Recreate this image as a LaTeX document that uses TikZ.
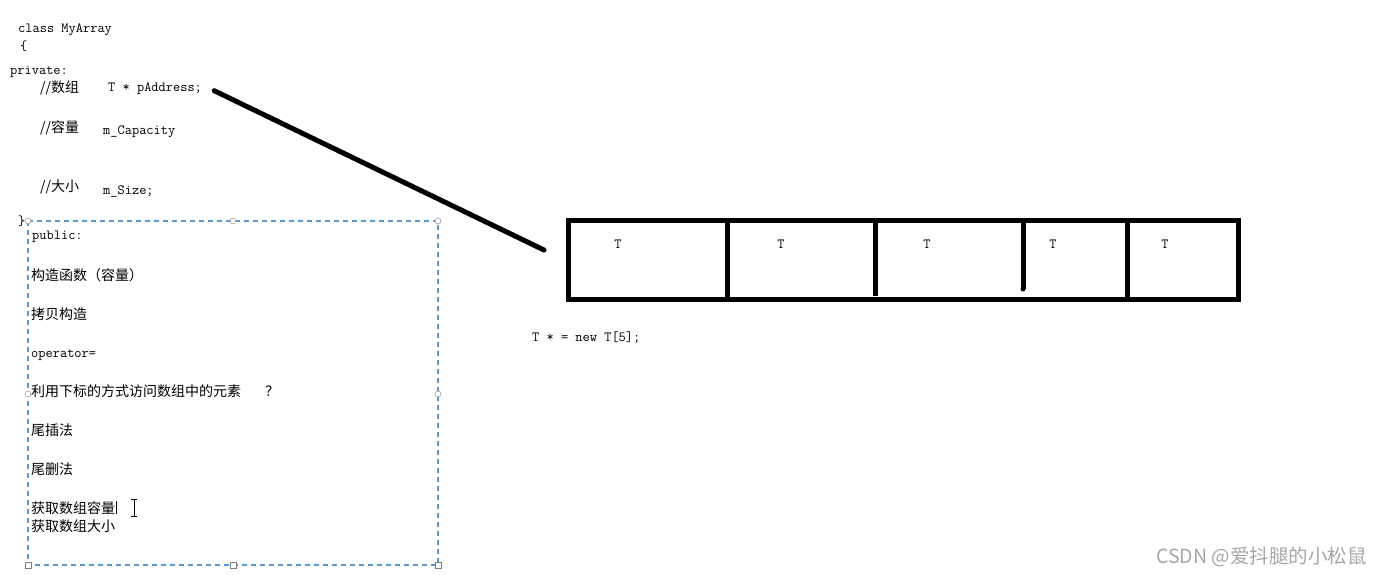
\documentclass[tikz,border=0pt]{standalone}
\usepackage{fontspec}
\newfontfamily\cjk{Noto Sans CJK SC}
\definecolor{BoxDash}{HTML}{5B9BD5}
\definecolor{Handle}{HTML}{7F7F7F}
\definecolor{Mark}{HTML}{A6A6A6}

\begin{document}
\begin{tikzpicture}[x=1pt, y=-1pt,
            code/.style={anchor=base west, inner sep=0pt, font=\fontsize{14}{16}\ttfamily},
            zh/.style={anchor=base west, inner sep=0pt, font=\fontsize{14}{16}\cjk},
            cell/.style={anchor=base, inner sep=0pt, font=\fontsize{14}{16}\ttfamily},
            handle/.style={circle, draw=Handle, fill=white, inner sep=0pt, minimum size=6pt},
            handlesq/.style={rectangle, draw=Handle, fill=white, inner sep=0pt, minimum size=5.5pt},
            thickline/.style={line width=5pt, line cap=round}]
            \useasboundingbox (0,0) rectangle (1383,575);

            % declaracao da classe
            \node[code] (cls)   at (18,33)  {class MyArray};
            \node[code] (lbr)   at (20,51)  {\{};
            \node[code] (priv)  at (10,75)  {private:};
            \node[zh]   (cmt1)  at (40,93)  {//数组};
            \node[code] (paddr) at (108,92) {T * pAddress;};
            \node[zh]   (cmt2)  at (40,132) {//容量};
            \node[code] (cap)   at (103,135) {m\_Capacity};
            \node[zh]   (cmt3)  at (40,191) {//大小};
            \node[code] (size)  at (103,194) {m\_Size;};
            \node[code] (rbr)   at (18,225) {\}};

            % caixa tracejada com a interface publica
            \draw[BoxDash, line width=1.2pt, dash pattern=on 5pt off 4pt] (28,221) rectangle (438,565);
            \foreach \hx/\hy in {28/221, 233/221, 438/221, 28/394, 438/394}
                \node[handle] (h-\hx-\hy) at (\hx,\hy) {};
            \foreach \hx in {28, 233, 438}
                \node[handlesq] (hb-\hx) at (\hx,565) {};

            \node[code] (pub)     at (32,239) {public:};
            \node[zh]   (ctor)    at (31,280) {构造函数（容量）};
            \node[zh]   (copy)    at (31,319) {拷贝构造};
            \node[code] (opr)     at (31,357) {operator=};
            \node[zh]   (idx)     at (31,396) {利用下标的方式访问数组中的元素\hspace{24pt}？};
            \node[zh]   (push)    at (31,435) {尾插法};
            \node[zh]   (pop)     at (31,474) {尾删法};
            \node[zh]   (getcap)  at (31,513) {获取数组容量};
            \node[zh]   (getsize) at (31,531) {获取数组大小};

            % cursor de texto
            \draw[line width=1pt] ([xshift=1.5pt]getcap.north east) -- ([xshift=1.5pt]getcap.south east);
            \draw[line width=0.9pt] (134,499) -- (134,516) (131,499) -- (137,499) (131,516) -- (137,516);

            % array no heap
            \node[draw, line width=5pt, minimum width=670pt, minimum height=79pt, inner sep=0pt]
                (arr) at (903,259.5) {};
            \draw[line width=5pt] (727,220) -- (727,299);
            \draw[line width=5pt] (875,220) -- (875,296);
            \draw[line width=5pt] (1023,220) -- (1023,289);
            \fill (1023,289) circle (2.5pt);
            \draw[line width=5pt] (1127,220) -- (1127,299);
            \foreach \tx [count=\i] in {618, 781, 927, 1053, 1165}
                \node[cell] (t\i) at (\tx,248) {T};
            \node[code] (newarr) at (532,341) {T * = new T[5];};

            % ponteiro para o array
            \coordinate (tip) at (544,250);
            \draw[thickline] ([xshift=12pt,yshift=-1.5pt]paddr.east) -- (tip);

            \node[anchor=base east, inner sep=0pt, font=\fontsize{19.5}{21}\cjk, text=Mark]
                (mark) at (1367,563) {CSDN @爱抖腿的小松鼠};
        \end{tikzpicture}
\end{document}
